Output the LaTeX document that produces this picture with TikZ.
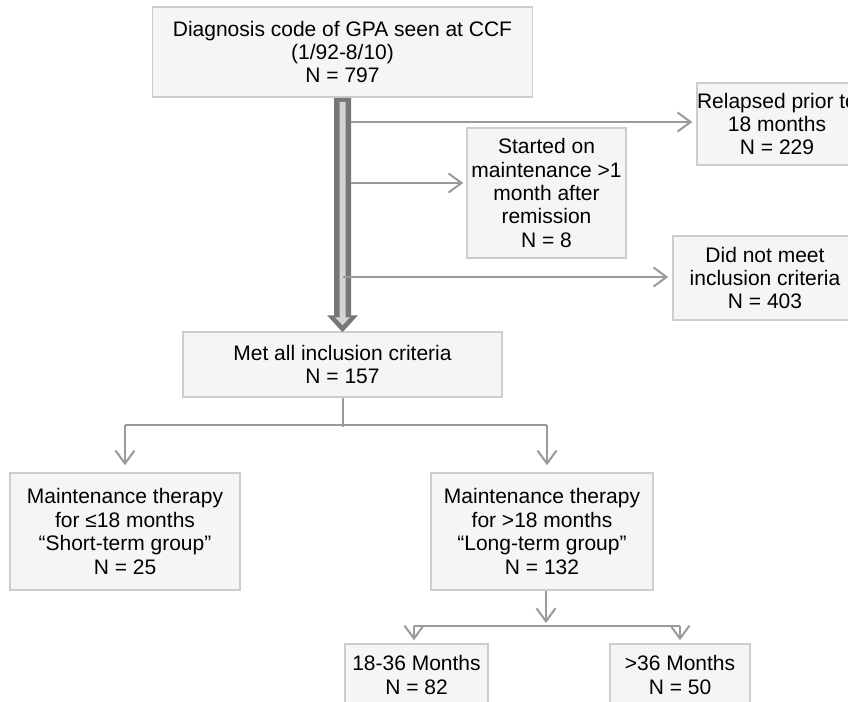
\documentclass[tikz,border=0pt]{standalone}
\usepackage{fontspec}
\setmainfont{Liberation Sans}
\usetikzlibrary{arrows.meta,calc}
\definecolor{boxfill}{HTML}{F5F5F5}
\definecolor{boxline}{HTML}{CDCDCD}
\definecolor{connc}{HTML}{9A9A9A}
\definecolor{thickout}{HTML}{777777}
\definecolor{thickin}{HTML}{D4D4D4}
\begin{document}
\begin{tikzpicture}[x=1pt,y=-1pt,
  box/.style={draw=boxline, fill=boxfill, line width=1.5pt, align=center,
    inner sep=0pt, font=\fontsize{21}{23.4}\selectfont},
  conn/.style={draw=connc, line width=2pt},
  arr/.style={conn, -{Straight Barb[length=13pt,width=19pt,line width=2pt]}}
]
\clip (0,0) rectangle (848,701);
\fill[white] (0,0) rectangle (848,701);

\node[box, minimum width=380pt, minimum height=90pt] (top) at (342.5,52)
  {Diagnosis code of GPA seen at CCF\\(1/92-8/10)\\N = 797};
\node[box, minimum width=156pt, minimum height=82pt] (rel) at (777,124)
  {Relapsed prior to\\18 months\\N = 229};
\node[box, minimum width=159pt, minimum height=130pt] (start) at (546.5,193)
  {Started on\\maintenance >1\\month after\\remission\\N = 8};
\node[box, minimum width=184pt, minimum height=84pt] (notmet) at (765,278)
  {Did not meet\\inclusion criteria\\N = 403};
\node[box, minimum width=319pt, minimum height=65pt] (met) at (342.5,364.5)
  {Met all inclusion criteria\\N = 157};
\node[box, minimum width=230pt, minimum height=117pt] (short) at (125,531.5)
  {Maintenance therapy\\for ≤18 months\\“Short-term group”\\N = 25};
\node[box, minimum width=222pt, minimum height=117pt] (long) at (542,531.5)
  {Maintenance therapy\\for >18 months\\“Long-term group”\\N = 132};
\node[box, minimum width=143pt, minimum height=62pt] (mA) at (416.5,675)
  {18-36 Months\\N = 82};
\node[box, minimum width=140pt, minimum height=62pt] (mB) at (680,675)
  {>36 Months\\N = 50};

% thick arrow
\fill[thickout] ($(top.south)+(-8.5,0)$) -- ($(top.south)+(8.5,0)$)
  -- ($(met.north)+(8.5,-16)$) -- ($(met.north)+(15.5,-16)$) -- ($(met.north)+(0,1)$)
  -- ($(met.north)+(-15.5,-16)$) -- ($(met.north)+(-8.5,-16)$) -- cycle;
\fill[thickin] ($(top.south)+(-3,4)$) -- ($(top.south)+(3,4)$)
  -- ($(met.north)+(3,-14)$) -- ($(met.north)+(7.5,-14)$) -- ($(met.north)+(0,-6)$)
  -- ($(met.north)+(-7.5,-14)$) -- ($(met.north)+(-3,-14)$) -- cycle;

% side branches
\coordinate (b1) at (350.5,122);
\coordinate (b2) at (350.5,183);
\coordinate (b3) at (343,277);
\draw[arr, shorten >=4pt] (b1) -- (b1 -| rel.west);
\draw[arr, shorten >=3pt] (b2) -- (b2 -| start.west);
\draw[arr, shorten >=4pt] (b3) -- (b3 -| notmet.west);

% split to groups
\coordinate (h1) at (125,425);
\coordinate (h2) at (547,425);
\draw[conn] (met.south) -- ($(met.south)+(0,29)$);
\draw[conn] (h1) -- (h2);
\draw[arr, shorten >=7pt] (h1) -- (h1 |- short.north);
\draw[arr, shorten >=7pt] (h2) -- (h2 |- long.north);

% split long-term
\coordinate (v1) at ($(long.south)+(4,0)$);
\coordinate (v2) at (546,623);
\coordinate (g1) at (414,626);
\coordinate (g2) at (680,626);
\draw[arr] (v1) -- (v2);
\draw[conn] (g1) -- (g2);
\draw[arr, shorten >=3pt] (g1) -- (g1 |- mA.north);
\draw[arr, shorten >=3pt] (g2) -- (g2 |- mB.north);
\end{tikzpicture}
\end{document}
